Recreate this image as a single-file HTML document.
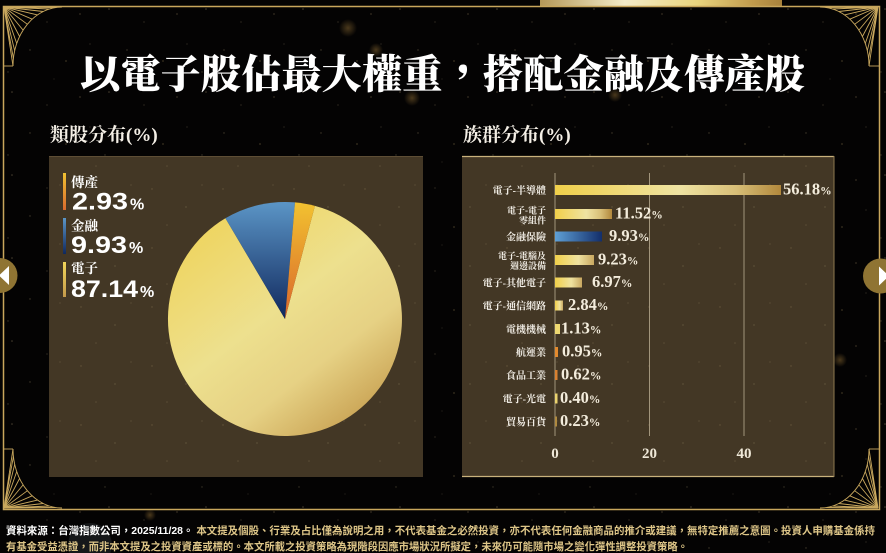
<!DOCTYPE html>
<html><head><meta charset="utf-8">
<style>
html,body{margin:0;padding:0;background:#030303;}
svg{display:block;}
</style></head>
<body>
<svg width="886" height="553" viewBox="0 0 886 553" xmlns="http://www.w3.org/2000/svg">
<defs>
  <pattern id="stars" width="97" height="83" patternUnits="userSpaceOnUse">
    <circle cx="12" cy="9" r="0.8" fill="#8a7a5a" opacity="0.5"/>
    <circle cx="47" cy="22" r="0.6" fill="#9a8a6a" opacity="0.4"/>
    <circle cx="80" cy="14" r="0.9" fill="#7a6a4a" opacity="0.4"/>
    <circle cx="30" cy="50" r="0.7" fill="#8a7a5a" opacity="0.45"/>
    <circle cx="66" cy="61" r="1" fill="#6a5a3a" opacity="0.4"/>
    <circle cx="90" cy="44" r="0.6" fill="#9a8a6a" opacity="0.35"/>
    <circle cx="8" cy="72" r="0.7" fill="#8a7a5a" opacity="0.4"/>
    <circle cx="54" cy="79" r="0.5" fill="#aa9a7a" opacity="0.35"/>
  </pattern>
  <pattern id="pstars" width="71" height="59" patternUnits="userSpaceOnUse">
    <circle cx="10" cy="12" r="0.7" fill="#a08c62" opacity="0.35"/>
    <circle cx="44" cy="30" r="0.9" fill="#a08c62" opacity="0.25"/>
    <circle cx="60" cy="8" r="0.6" fill="#b09c72" opacity="0.3"/>
    <circle cx="25" cy="48" r="0.8" fill="#a08c62" opacity="0.25"/>
  </pattern>
  <radialGradient id="bokeh">
    <stop offset="0" stop-color="#a07a3a" stop-opacity="0.45"/>
    <stop offset="1" stop-color="#a07a3a" stop-opacity="0"/>
  </radialGradient>
  <linearGradient id="topbar" x1="0" y1="0" x2="1" y2="0">
    <stop offset="0" stop-color="#b49858"/>
    <stop offset="0.35" stop-color="#f3ebc8"/>
    <stop offset="0.65" stop-color="#e9d47e"/>
    <stop offset="0.88" stop-color="#c09a4c"/>
    <stop offset="1" stop-color="#a8823c"/>
  </linearGradient>
  <linearGradient id="pieY" gradientUnits="userSpaceOnUse" x1="200" y1="210" x2="370" y2="430">
    <stop offset="0" stop-color="#efd35a"/>
    <stop offset="0.45" stop-color="#ede08e"/>
    <stop offset="0.7" stop-color="#e6d184"/>
    <stop offset="1" stop-color="#c49a4b"/>
  </linearGradient>
  <linearGradient id="pieB" gradientUnits="userSpaceOnUse" x1="0" y1="202" x2="0" y2="319">
    <stop offset="0" stop-color="#5b95c6"/>
    <stop offset="1" stop-color="#10285d"/>
  </linearGradient>
  <linearGradient id="pieO" gradientUnits="userSpaceOnUse" x1="0" y1="202" x2="0" y2="319">
    <stop offset="0" stop-color="#f2c230"/>
    <stop offset="1" stop-color="#d9652c"/>
  </linearGradient>
  <linearGradient id="legO" x1="0" y1="0" x2="0" y2="1">
    <stop offset="0" stop-color="#f0c232"/>
    <stop offset="1" stop-color="#d96a2e"/>
  </linearGradient>
  <linearGradient id="legB" x1="0" y1="0" x2="0" y2="1">
    <stop offset="0" stop-color="#5b95c6"/>
    <stop offset="1" stop-color="#10285d"/>
  </linearGradient>
  <linearGradient id="legY" x1="0" y1="0" x2="0" y2="1">
    <stop offset="0" stop-color="#f0d55a"/>
    <stop offset="1" stop-color="#c49a4b"/>
  </linearGradient>
  <linearGradient id="barY" x1="0" y1="0" x2="1" y2="0">
    <stop offset="0" stop-color="#f0cf4a"/>
    <stop offset="0.55" stop-color="#efe3a2"/>
    <stop offset="0.8" stop-color="#d8bf78"/>
    <stop offset="1" stop-color="#b2883c"/>
  </linearGradient>
  <linearGradient id="barY2" x1="0" y1="0" x2="1" y2="0">
    <stop offset="0" stop-color="#f0cf4a"/>
    <stop offset="0.6" stop-color="#efe2a0"/>
    <stop offset="1" stop-color="#c9a860"/>
  </linearGradient>
  <linearGradient id="barB" x1="0" y1="0" x2="1" y2="0">
    <stop offset="0" stop-color="#5fa0d6"/>
    <stop offset="1" stop-color="#132e6a"/>
  </linearGradient>
</defs>

<!-- background -->
<rect width="886" height="553" fill="#040303"/>
<rect width="886" height="553" fill="url(#stars)"/>
<circle cx="348" cy="28" r="9" fill="url(#bokeh)"/>
<circle cx="376" cy="50" r="7" fill="url(#bokeh)"/>
<circle cx="412" cy="98" r="8" fill="url(#bokeh)"/>
<circle cx="615" cy="95" r="7" fill="url(#bokeh)"/>
<circle cx="150" cy="515" r="6" fill="url(#bokeh)"/>
<circle cx="840" cy="360" r="7" fill="url(#bokeh)"/>
<circle cx="90" cy="545" r="22" fill="#4a5660" opacity="0.25"/>

<!-- top gold bar -->
<rect x="540" y="0" width="242" height="6" fill="url(#topbar)"/>

<!-- frame -->
<rect x="3.5" y="6.5" width="876" height="503" fill="none" stroke="#c8a65c" stroke-width="1.5"/>

<!-- corner ornaments -->
<g id="corner" fill="none" stroke="#c9a85e" stroke-width="0.9">
  <path d="M13,66 A49,59 0 0 1 62,7"/>
  <path d="M3,66 L13,66"/>
  <path d="M4,7 L13,66 M4,7 L13.4,58.3 M4,7 L14.7,50.7 M4,7 L16.7,43.4 M4,7 L19.6,36.5 M4,7 L23.1,30.1 M4,7 L27.4,24.3 M4,7 L32.2,19.2 M4,7 L37.5,14.9 M4,7 L43.2,11.5 M4,7 L49.3,9 M4,7 L55.6,7.5"/>
</g>
<use href="#corner" transform="translate(882,0) scale(-1,1)"/>
<use href="#corner" transform="translate(0,515) scale(1,-1)"/>
<use href="#corner" transform="translate(882,515) scale(-1,-1)"/>

<!-- title -->
<text x="442.5" y="88" text-anchor="middle" font-family="'Noto Serif CJK TC','Noto Serif CJK SC',serif" font-weight="900" font-size="40" fill="#ffffff" textLength="725" lengthAdjust="spacingAndGlyphs">以電子股佔最大權重，搭配金融及傳產股</text>

<!-- subtitles -->
<text x="50" y="141" font-family="'Liberation Serif','Noto Serif CJK TC',serif" font-weight="700" font-size="19" fill="#f4efe6">類股分布(%)</text>
<text x="463" y="141" font-family="'Liberation Serif','Noto Serif CJK TC',serif" font-weight="700" font-size="19" fill="#f4efe6">族群分布(%)</text>

<!-- pie panel -->
<rect x="49" y="156" width="374" height="321" fill="#433725"/>
<rect x="49" y="156" width="374" height="321" fill="url(#pstars)"/>
<line x1="49" y1="156.5" x2="423" y2="156.5" stroke="#5e4e35" stroke-width="1"/>

<!-- pie -->
<path d="M285,319 L314.9,205.9 A117,117 0 1 1 225.4,218.3 Z" fill="url(#pieY)"/>
<path d="M285,319 L225.4,218.3 A117,117 0 0 1 295,202.4 Z" fill="url(#pieB)"/>
<path d="M285,319 L295,202.4 A117,117 0 0 1 314.9,205.9 Z" fill="url(#pieO)"/>

<!-- pie legend -->
<rect x="63" y="173" width="3" height="37" fill="url(#legO)"/>
<rect x="63" y="218" width="3" height="36" fill="url(#legB)"/>
<rect x="63" y="262" width="3" height="35" fill="url(#legY)"/>
<g font-family="'Liberation Serif','Noto Serif CJK TC',serif" font-weight="700" font-size="13.5" fill="#ffffff">
  <text x="71" y="187">傳產</text>
  <text x="71" y="230.5">金融</text>
  <text x="71" y="273">電子</text>
</g>
<g font-family="'Liberation Sans',sans-serif" font-weight="700" fill="#ffffff">
  <text x="72" y="209.3" font-size="24" textLength="56" lengthAdjust="spacingAndGlyphs">2.93</text>
  <text x="130" y="209.3" font-size="16">%</text>
  <text x="71" y="253" font-size="24" textLength="56" lengthAdjust="spacingAndGlyphs">9.93</text>
  <text x="129" y="253" font-size="16">%</text>
  <text x="71" y="297" font-size="24" textLength="67" lengthAdjust="spacingAndGlyphs">87.14</text>
  <text x="140" y="297" font-size="16">%</text>
</g>

<!-- bar panel -->
<rect x="462" y="156" width="372" height="321" fill="#433725"/>
<rect x="462" y="156" width="372" height="321" fill="url(#pstars)"/>
<line x1="462" y1="156.5" x2="834" y2="156.5" stroke="#c9b27c" stroke-width="1.2"/>
<line x1="462" y1="476.5" x2="834" y2="476.5" stroke="#c9b27c" stroke-width="1.2"/>
<line x1="834" y1="156" x2="834" y2="477" stroke="#8e7a50" stroke-width="1"/>

<!-- gridlines -->
<g stroke="#b3a68c" stroke-width="1" opacity="0.85">
  <line x1="555" y1="173" x2="555" y2="436"/>
  <line x1="649.5" y1="173" x2="649.5" y2="436"/>
  <line x1="744" y1="173" x2="744" y2="436"/>
</g>
<g font-family="'Liberation Serif',serif" font-weight="700" font-size="15" fill="#efe8d8" text-anchor="middle">
  <text x="555" y="458">0</text>
  <text x="649.5" y="458">20</text>
  <text x="744" y="458">40</text>
</g>

<!-- bars -->
<rect x="555" y="185" width="226" height="10" fill="url(#barY)"/>
<rect x="555" y="209" width="57" height="10" fill="url(#barY)"/>
<rect x="555" y="231.5" width="47" height="10" fill="url(#barB)"/>
<rect x="555" y="255" width="39" height="10" fill="url(#barY2)"/>
<rect x="555" y="277.5" width="27" height="10" fill="url(#barY2)"/>
<rect x="555" y="300.5" width="8" height="10" fill="url(#barY2)"/>
<rect x="555" y="324" width="5" height="10" fill="#eed870"/>
<rect x="555" y="347" width="3" height="10" fill="#e38a2e"/>
<rect x="555" y="370" width="2.5" height="10" fill="#d98030"/>
<rect x="555" y="393.5" width="2.5" height="10" fill="#ead26e"/>
<rect x="555" y="416.5" width="2" height="10" fill="#b08a40"/>

<!-- category labels -->
<g font-family="'Liberation Serif','Noto Serif CJK TC',serif" font-weight="700" font-size="10" fill="#f2eee6" text-anchor="end">
  <text x="546" y="193.8">電子-半導體</text>
  <text x="546" y="213.6" font-size="9">電子-電子</text>
  <text x="546" y="223.4" font-size="9">零組件</text>
  <text x="546" y="240.3">金融保險</text>
  <text x="546" y="259" font-size="9">電子-電腦及</text>
  <text x="546" y="268.8" font-size="9">週邊設備</text>
  <text x="546" y="286.3">電子-其他電子</text>
  <text x="546" y="309.3">電子-通信網路</text>
  <text x="546" y="332.8">電機機械</text>
  <text x="546" y="355.8">航運業</text>
  <text x="546" y="378.8">食品工業</text>
  <text x="546" y="402.3">電子-光電</text>
  <text x="546" y="425.3">貿易百貨</text>
</g>

<!-- value labels -->
<g font-family="'Liberation Serif',serif" font-weight="700" font-size="16.5" fill="#f3ecdc">
  <text x="783" y="194.5">56.18<tspan font-size="11.5">%</tspan></text>
  <text x="615" y="218.5">11.52<tspan font-size="11.5">%</tspan></text>
  <text x="609" y="241">9.93<tspan font-size="11.5">%</tspan></text>
  <text x="598" y="264.5">9.23<tspan font-size="11.5">%</tspan></text>
  <text x="592" y="287">6.97<tspan font-size="11.5">%</tspan></text>
  <text x="568" y="310">2.84<tspan font-size="11.5">%</tspan></text>
  <text x="561" y="333.5">1.13<tspan font-size="11.5">%</tspan></text>
  <text x="562" y="356.5">0.95<tspan font-size="11.5">%</tspan></text>
  <text x="561" y="379.5">0.62<tspan font-size="11.5">%</tspan></text>
  <text x="560" y="403">0.40<tspan font-size="11.5">%</tspan></text>
  <text x="560" y="426">0.23<tspan font-size="11.5">%</tspan></text>
</g>

<!-- side arrows -->
<circle cx="0" cy="275.5" r="17.5" fill="#8f7433"/>
<polygon points="-1,275.5 9,266 9,285" fill="#ffffff"/>
<circle cx="880.5" cy="276" r="17.5" fill="#8f7433"/>
<polygon points="879,266.5 879,285.5 889,276" fill="#ffffff"/>

<!-- footer -->
<g font-family="'Liberation Sans','Noto Sans CJK TC',sans-serif" font-weight="700" font-size="10.5">
  <text x="6" y="534" textLength="869" lengthAdjust="spacingAndGlyphs"><tspan fill="#ffffff">資料來源：台灣指數公司，2025/11/28。</tspan><tspan fill="#dec688"> 本文提及個股、行業及占比僅為說明之用，不代表基金之必然投資，亦不代表任何金融商品的推介或建議，無特定推薦之意圖。投資人申購基金係持</tspan></text>
  <text x="6" y="550" textLength="682" lengthAdjust="spacingAndGlyphs" fill="#dec688">有基金受益憑證，而非本文提及之投資資產或標的。本文所載之投資策略為現階段因應市場狀況所擬定，未來仍可能隨市場之變化彈性調整投資策略。</text>
</g>
</svg>
</body></html>
